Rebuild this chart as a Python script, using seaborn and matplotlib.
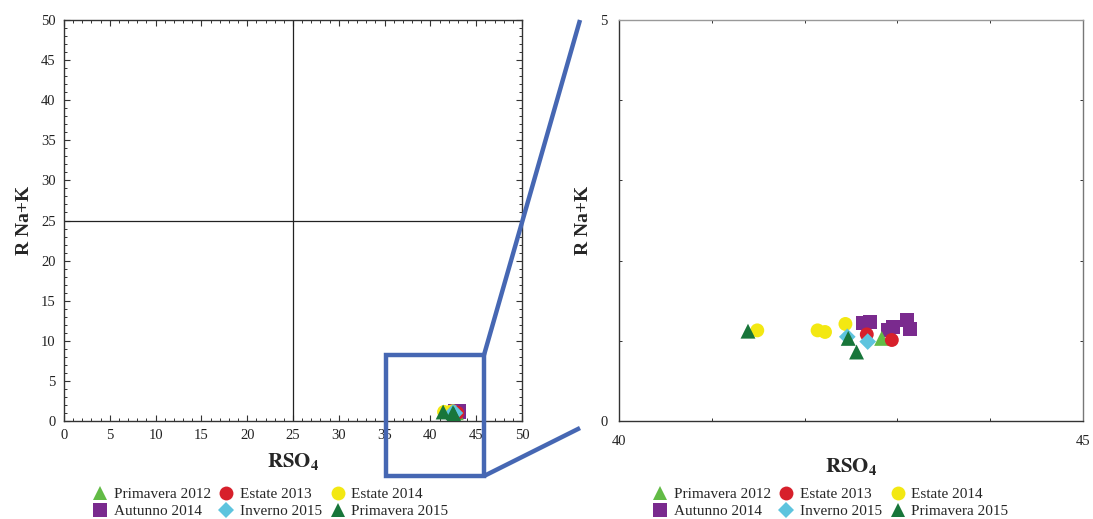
import numpy as np
import pandas as pd
import matplotlib
matplotlib.use("Agg")
import matplotlib.pyplot as plt
from matplotlib.patches import Rectangle
from matplotlib.lines import Line2D
from matplotlib.ticker import MultipleLocator
import seaborn as sns

# Campaign labels, in legend order
seasons = ["Primavera 2012", "Estate 2013", "Estate 2014",
           "Autunno 2014", "Inverno 2015", "Primavera 2015"]

# Sample ratios (RSO4, R Na+K) per campaign
autunno_2014_x = [42.63, 42.70, 42.90, 42.95, 43.10, 43.14]
autunno_2014_y = [1.22, 1.23, 1.13, 1.17, 1.26, 1.15]
estate_2014_x = [41.49, 42.14, 42.22, 42.44]
estate_2014_y = [1.13, 1.13, 1.11, 1.21]
primavera_2012_x = [42.83]
primavera_2012_y = [1.03]
estate_2013_x = [42.67, 42.94]
estate_2013_y = [1.08, 1.01]
inverno_2015_x = [42.46, 42.68]
inverno_2015_y = [1.05, 0.99]
primavera_2015_x = [41.39, 42.47, 42.56]
primavera_2015_y = [1.12, 1.03, 0.86]

colors = {
    "Primavera 2012": "#62bb46",
    "Estate 2013": "#d7202b",
    "Estate 2014": "#f3e812",
    "Autunno 2014": "#7a2a8e",
    "Inverno 2015": "#5ec4de",
    "Primavera 2015": "#18763a",
}
markers = {
    "Primavera 2012": "^",
    "Estate 2013": "o",
    "Estate 2014": "o",
    "Autunno 2014": "s",
    "Inverno 2015": "D",
    "Primavera 2015": "^",
}
marker_area = {
    "Primavera 2012": 115,
    "Estate 2013": 100,
    "Estate 2014": 100,
    "Autunno 2014": 100,
    "Inverno 2015": 72,
    "Primavera 2015": 115,
}

# drawing order: later rows sit on top
groups = [
    ("Autunno 2014", autunno_2014_x, autunno_2014_y),
    ("Estate 2014", estate_2014_x, estate_2014_y),
    ("Primavera 2012", primavera_2012_x, primavera_2012_y),
    ("Estate 2013", estate_2013_x, estate_2013_y),
    ("Inverno 2015", inverno_2015_x, inverno_2015_y),
    ("Primavera 2015", primavera_2015_x, primavera_2015_y),
]
rows = []
for name, xs, ys in groups:
    for xv, yv in zip(xs, ys):
        rows.append({"RSO4": xv, "RNaK": yv, "season": name})
df = pd.DataFrame(rows)

sns.set_theme(style="ticks")
plt.rcParams["font.family"] = ["Liberation Serif", "DejaVu Serif"]
plt.rcParams["mathtext.fontset"] = "stix"
plt.rcParams["axes.edgecolor"] = "#333333"
plt.rcParams["axes.linewidth"] = 1.0

W, H = 1093, 519
fig = plt.figure(figsize=(W / 100, H / 100), dpi=100)
fig.patch.set_facecolor("white")


def frac_box(l, r, t, b):
    return [l / W, 1 - b / H, (r - l) / W, (b - t) / H]


ax1 = fig.add_axes(frac_box(64, 522, 20, 421))
ax2 = fig.add_axes(frac_box(619, 1083, 20, 421))

for ax in (ax1, ax2):
    sns.scatterplot(data=df, x="RSO4", y="RNaK", hue="season", style="season",
                    size="season", sizes=marker_area,
                    palette=colors, markers=markers, linewidth=0,
                    legend=False, ax=ax, zorder=3)
    ax.set_xlabel(r"$\mathbf{RSO_4}$", fontsize=15, labelpad=6)
    ax.set_ylabel("R Na+K", fontsize=14, fontweight="bold", labelpad=6)
    ax.tick_params(which="both", direction="in", top=True, right=True,
                   labelsize=10.5, colors="#333333", labelcolor="#222222")
    ax.tick_params(which="major", length=4, width=0.8, pad=6)
    ax.tick_params(which="minor", length=2.5, width=0.7)

# overview panel
ax1.set_xlim(0, 50)
ax1.set_ylim(0, 50)
ax1.xaxis.set_major_locator(MultipleLocator(5))
ax1.yaxis.set_major_locator(MultipleLocator(5))
ax1.xaxis.set_minor_locator(MultipleLocator(1))
ax1.yaxis.set_minor_locator(MultipleLocator(1))
ax1.axvline(25, color="#222222", lw=0.9, zorder=1)
ax1.axhline(25, color="#222222", lw=0.9, zorder=1)

# zoomed panel
ax2.set_xlim(40, 45)
ax2.set_ylim(0, 5)
ax2.set_xticks([40, 45])
ax2.set_yticks([0, 5])
ax2.xaxis.set_minor_locator(MultipleLocator(1))
ax2.yaxis.set_minor_locator(MultipleLocator(1))
ax2.tick_params(which="major", length=0)
ax2.tick_params(axis="x", which="major", pad=10)
ax2.tick_params(axis="y", which="major", pad=8)
ax2.spines["top"].set_color("#999999")
ax2.spines["right"].set_color("#777777")

# legends below each panel
handles = {name: Line2D([], [], linestyle="none", marker=markers[name],
                        markersize=10 if markers[name] != "D" else 8,
                        markerfacecolor=colors[name],
                        markeredgewidth=0) for name in seasons}
order = ["Primavera 2012", "Autunno 2014", "Estate 2013",
         "Inverno 2015", "Estate 2014", "Primavera 2015"]
for ax, left_px in ((ax1, 85), (ax2, 645)):
    ax.legend([handles[n] for n in order], order, ncol=3, frameon=False,
              loc="upper left", bbox_to_anchor=(left_px / W, 1 - 480 / H),
              bbox_transform=fig.transFigure, fontsize=11,
              handlelength=1.0, handletextpad=0.4, columnspacing=0.5,
              labelspacing=0.2, borderpad=0)

# zoom box and connector lines
blue = "#4667b3"
fig.add_artist(Rectangle((386 / W, 1 - 476 / H), 98 / W, 121 / H,
                         transform=fig.transFigure, fill=False,
                         edgecolor=blue, linewidth=3.2, zorder=10))
fig.add_artist(Line2D([484 / W, 580 / W], [1 - 355 / H, 1 - 20 / H],
                      transform=fig.transFigure, color=blue, linewidth=3.2,
                      zorder=10, solid_capstyle="butt"))
fig.add_artist(Line2D([484 / W, 580 / W], [1 - 476 / H, 1 - 428 / H],
                      transform=fig.transFigure, color=blue, linewidth=3.2,
                      zorder=10, solid_capstyle="butt"))

fig.savefig("out.png", dpi=100, facecolor="white")
